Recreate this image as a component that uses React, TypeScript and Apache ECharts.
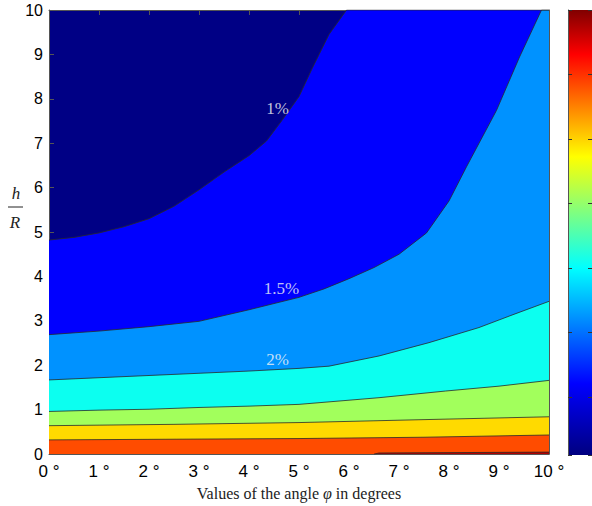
import React, { useEffect, useRef } from "react";
import * as echarts from "echarts";

// contour lines (x = angle in degrees, y = h/R)
const contour1: number[][] = [[0,4.82],[0.5,4.88],[1,4.98],[1.5,5.12],[2,5.3],[2.5,5.58],[3,5.95],[3.5,6.35],[4,6.72],[4.35,7.05],[4.65,7.5],[5,8.05],[5.27,8.7],[5.6,9.45],[5.95,10],[10,10]];
const contour15: number[][] = [[0,2.69],[1,2.77],[2,2.87],[3,2.99],[4,3.25],[5,3.53],[5.5,3.72],[6,3.95],[6.5,4.2],[7,4.5],[7.55,4.98],[8.0,5.7],[8.35,6.47],[8.95,7.74],[9.41,8.94],[9.85,10],[10,10]];
const contour2: number[][] = [[0,1.67],[1,1.72],[2,1.77],[3,1.82],[4,1.87],[5,1.93],[5.6,1.98],[6.6,2.21],[7.6,2.51],[8.6,2.85],[9.28,3.14],[10,3.44]];
const contour4: number[][] = [[0,0.96],[1,0.99],[2,1.01],[3,1.05],[4,1.08],[5,1.12],[6.6,1.27],[7.93,1.42],[9,1.53],[10,1.66]];
const contour5: number[][] = [[0,0.64],[2.5,0.67],[5,0.71],[7.26,0.77],[10,0.84]];
const contour6: number[][] = [[0,0.32],[5,0.35],[7.5,0.38],[10,0.43]];
const contour7: number[][] = [[6.5,0],[6.6,0.025],[10,0.045]];

const bandColors = ["#0000ff", "#0092ff", "#0cfff0", "#a2ff5c", "#ffda00", "#ff4c00", "#b00000"];
const topColor = "#000085";

const contourLabels: (number | string)[][] = [[4.57,7.79,"1%"],[4.65,3.73,"1.5%"],[4.57,2.13,"2%"]];

const xTicks = [0,1,2,3,4,5,6,7,8,9,10];

export default function App() {
  const ref = useRef<HTMLDivElement>(null);
  useEffect(() => {
    if (!ref.current) return;
    const chart = echarts.init(ref.current, null, { renderer: "svg" });
    const contours = [contour1, contour15, contour2, contour4, contour5, contour6, contour7];
    const axisColor = "#555";
    const jet = new echarts.graphic.LinearGradient(0, 0, 0, 1, [
      { offset: 0, color: "#800000" },
      { offset: 0.1, color: "#ff0000" },
      { offset: 0.33, color: "#ffff00" },
      { offset: 0.58, color: "#00ffff" },
      { offset: 0.84, color: "#0000ff" },
      { offset: 1, color: "#000080" },
    ]);
    chart.setOption({
      animation: false,
      grid: [
        { left: 49, top: 10, width: 500, height: 445, show: true, backgroundColor: topColor, borderWidth: 0 },
        { left: 568, top: 10, width: 28, height: 445, show: true, backgroundColor: jet, borderWidth: 0 },
      ],
      xAxis: [
        {
          type: "value", gridIndex: 0, min: 0, max: 10, interval: 1, position: "bottom",
          axisLine: { show: true, onZero: false, lineStyle: { color: axisColor, width: 1 } },
          axisTick: { show: true, inside: true, length: 5, lineStyle: { color: axisColor } },
          axisLabel: { show: true, margin: 9, color: "#000", fontSize: 17, fontFamily: "Liberation Sans", formatter: (v: number) => (xTicks.includes(v) ? `${v} °` : "") },
          splitLine: { show: false },
          name: "Values of the angle {i|φ} in degrees",
          nameLocation: "middle",
          nameGap: 30,
          nameTextStyle: { color: "#222", fontSize: 16, fontFamily: "Liberation Serif", rich: { i: { fontStyle: "italic", fontSize: 16, fontFamily: "Liberation Serif", color: "#222" } } },
        },
        {
          type: "value", gridIndex: 0, min: 0, max: 10, interval: 1, position: "top",
          axisLine: { show: true, onZero: false, lineStyle: { color: axisColor, width: 1 } },
          axisTick: { show: true, inside: true, length: 5, lineStyle: { color: axisColor } },
          axisLabel: { show: false }, splitLine: { show: false },
        },
        { type: "value", gridIndex: 1, min: 0, max: 1, show: false },
      ],
      yAxis: [
        {
          type: "value", gridIndex: 0, min: 0, max: 10, interval: 1, position: "left",
          axisLine: { show: true, onZero: false, lineStyle: { color: axisColor, width: 1 } },
          axisTick: { show: true, inside: true, length: 5, lineStyle: { color: axisColor } },
          axisLabel: { show: true, margin: 6, color: "#000", fontSize: 16, fontFamily: "Liberation Sans" },
          splitLine: { show: false },
        },
        {
          type: "value", gridIndex: 0, min: 0, max: 10, interval: 1, position: "right",
          axisLine: { show: true, onZero: false, lineStyle: { color: axisColor, width: 1 } },
          axisTick: { show: true, inside: true, length: 5, lineStyle: { color: axisColor } },
          axisLabel: { show: false }, splitLine: { show: false },
        },
        {
          type: "value", gridIndex: 1, min: 0, max: 6.9, interval: 1, inverse: true, position: "left",
          axisLine: { show: true, onZero: false, lineStyle: { color: axisColor, width: 1 } },
          axisTick: { show: true, inside: true, length: 4, lineStyle: { color: "#333" } },
          axisLabel: { show: false }, splitLine: { show: false },
        },
        {
          type: "value", gridIndex: 1, min: 0, max: 6.9, interval: 1, inverse: true, position: "right",
          axisLine: { show: true, onZero: false, lineStyle: { color: axisColor, width: 1 } },
          axisTick: { show: true, inside: true, length: 4, lineStyle: { color: "#333" } },
          axisLabel: { show: false }, splitLine: { show: false },
        },
      ],
      series: [
        ...contours.map((c, i) => ({
          type: "line",
          xAxisIndex: 0,
          yAxisIndex: 0,
          data: c,
          symbol: "none",
          smooth: false,
          clip: true,
          lineStyle: { color: "#2a2a2a", width: 0.8 },
          areaStyle: { color: bandColors[i], opacity: 1, origin: "start" },
          z: 2,
        })),
        {
          type: "scatter",
          xAxisIndex: 0,
          yAxisIndex: 0,
          data: contourLabels,
          symbolSize: 0,
          z: 5,
          label: {
            show: true,
            position: "inside",
            formatter: (p: any) => p.value[2],
            color: "#f4f4f4",
            fontSize: 17,
            fontFamily: "Liberation Serif",
          },
        },
      ],
      graphic: [
        { type: "text", x: 16, y: 193, style: { text: "h", fontSize: 17, fontStyle: "italic", fontFamily: "Liberation Serif", fill: "#222", align: "center", verticalAlign: "middle" } },
        { type: "line", shape: { x1: 8, y1: 207, x2: 23, y2: 207 }, style: { stroke: "#222", lineWidth: 1 } },
        { type: "text", x: 15, y: 222, style: { text: "R", fontSize: 17, fontStyle: "italic", fontFamily: "Liberation Serif", fill: "#222", align: "center", verticalAlign: "middle" } },
      ],
    });
    return () => chart.dispose();
  }, []);
  return <div ref={ref} style={{ width: 592, height: 506, position: "absolute", left: 0, top: 0 }} />;
}
